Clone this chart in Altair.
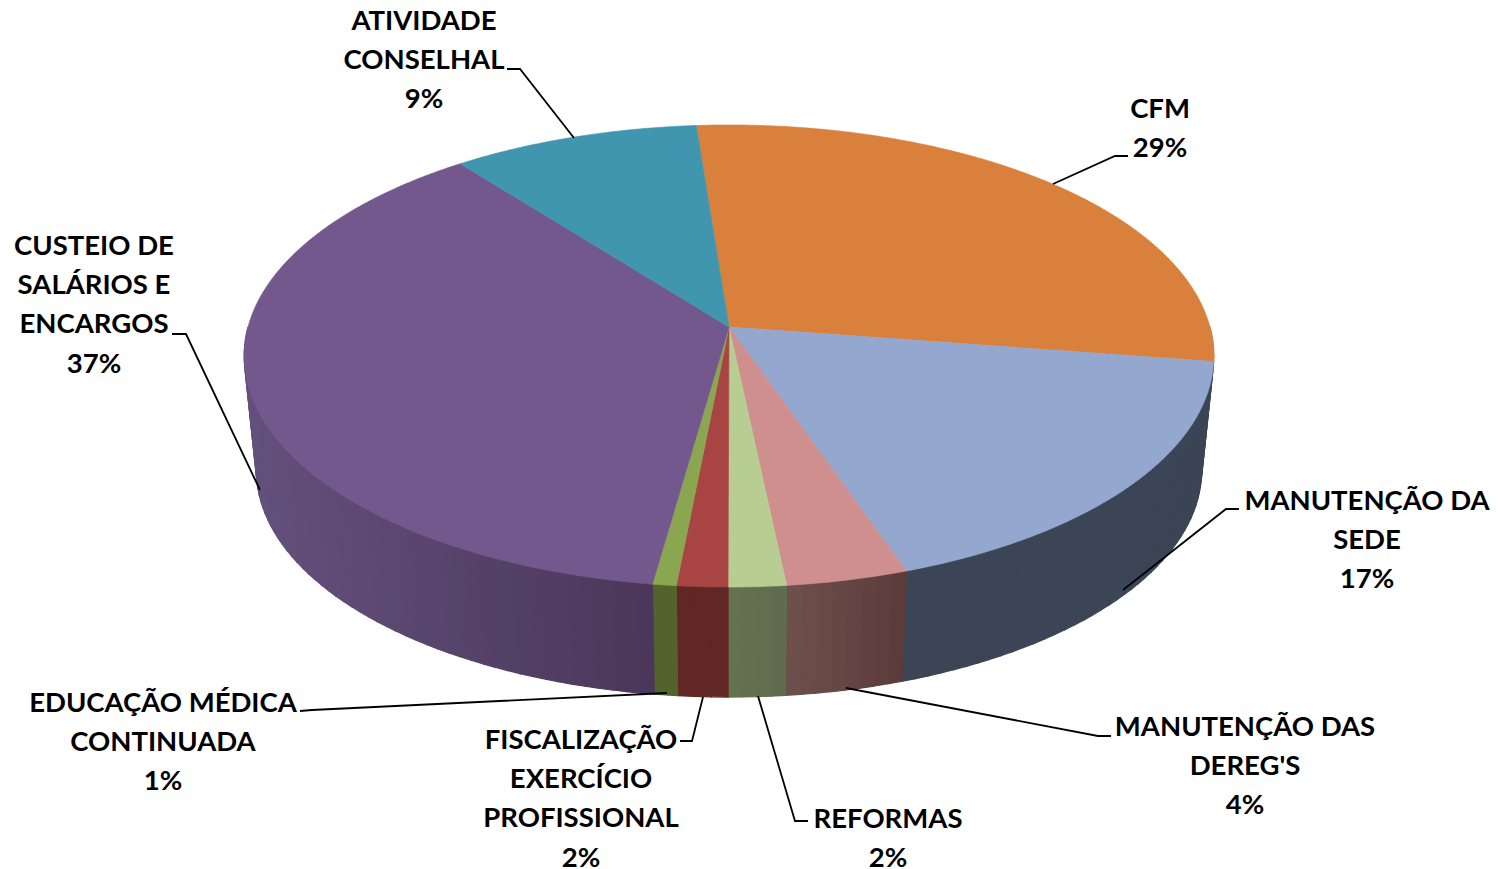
import math
import altair as alt
import pandas as pd

# Slice values, clockwise from the top
CATEGORIES = ["CFM", "MANUTENÇÃO DA\nSEDE", "MANUTENÇÃO DAS\nDEREG'S", "REFORMAS",
              "FISCALIZAÇÃO\nEXERCÍCIO\nPROFISSIONAL", "EDUCAÇÃO MÉDICA\nCONTINUADA",
              "CUSTEIO DE\nSALÁRIOS E\nENCARGOS", "ATIVIDADE\nCONSELHAL"]
SHARES = [28.6, 17.35, 3.6, 1.7, 1.5, 0.7, 37.25, 9.3]
PERCENT_LABELS = ["29%", "17%", "4%", "2%", "2%", "1%", "37%", "9%"]

TOP_COLORS = ["#d9813c", "#93a7cf", "#cf8f8e", "#b8cd92", "#a84543", "#8aa650", "#72588d", "#3f96ae"]
WALL_LEFT = ["#d9813c", "#3b4556", "#6e504c", "#66734f", "#612725", "#54632c", "#64507c", "#3f96ae"]
WALL_RIGHT = ["#d9813c", "#3b4556", "#5a3b3a", "#5f6b4e", "#612725", "#54632c", "#4a3759", "#3f96ae"]

# Label layout (first text line of each label)
LABEL_X = [1160, 1367, 1245, 888, 581, 163, 94, 424]
LABEL_Y = [110, 502, 728, 820, 741, 704, 247, 22]
LEADERS = [
    [(1053, 184), (1115, 156), (1128, 156)],
    [(1123, 590), (1226, 509), (1239, 509)],
    [(846, 688), (1098, 736), (1111, 736)],
    [(758, 696), (795, 821), (808, 821)],
    [(703, 697), (692, 741), (680, 741)],
    [(667, 693), (312, 710), (300, 711)],
    [(260, 490), (186, 334), (172, 334)],
    [(574, 138), (520, 69), (507, 69)],
]

START_ANGLE = -4.4
CX, APEX_Y, K, A, B = 729.0, 327.0, 0.1255, 227.4, 481.0
ELL_CY, BOT_CY, BOT_RX, BOT_RY = 356.0, 470.0, 0.975, 227 / 231


def top_point(deg):
    t = math.radians(deg)
    u, v = math.sin(t), math.cos(t)
    w = 1 + K * v
    return CX + B * u / w, APEX_Y - A * v / w


def bottom_point(deg):
    x, y = top_point(deg)
    return CX + (x - CX) * BOT_RX, BOT_CY + (y - ELL_CY) * BOT_RY


def mix(c1, c2, f):
    a = [int(c1[i:i + 2], 16) for i in (1, 3, 5)]
    b = [int(c2[i:i + 2], 16) for i in (1, 3, 5)]
    return "#%02x%02x%02x" % tuple(round(p + (q - p) * f) for p, q in zip(a, b))


edges = [START_ANGLE]
for s in SHARES:
    edges.append(edges[-1] + s * 3.6)

tops, walls = [], []
for i, cat in enumerate(CATEGORIES):
    a0, a1 = edges[i], edges[i + 1]
    n = max(4, int((a1 - a0) / 0.5))
    pts = [(CX, APEX_Y)] + [top_point(a0 + (a1 - a0) * j / n) for j in range(n + 1)] + [(CX, APEX_Y)]
    for j, (x, y) in enumerate(pts):
        tops.append({"id": i, "seq": j, "x": x, "y": y, "color": TOP_COLORS[i]})

    # Walls visible on the front half only
    w0, w1 = max(a0, 90.0), min(a1, 270.0)
    if w1 <= w0:
        continue
    m = max(1, int((w1 - w0) / 1.5))
    xs0, xs1 = top_point(w0)[0], top_point(w1)[0]
    lo, hi = min(xs0, xs1), max(xs0, xs1)
    for k in range(m):
        b0 = w0 + (w1 - w0) * k / m
        b1 = w0 + (w1 - w0) * (k + 1) / m
        xm = top_point((b0 + b1) / 2)[0]
        c = mix(WALL_LEFT[i], WALL_RIGHT[i], (xm - lo) / (hi - lo) if hi > lo else 0)
        quad = [top_point(b0), top_point(b1), bottom_point(b1), bottom_point(b0), top_point(b0)]
        for j, (x, y) in enumerate(quad):
            walls.append({"id": f"{i}-{k}", "seq": j, "x": x, "y": y, "color": c})

leader_rows = []
for i, pts in enumerate(LEADERS):
    for j, (x, y) in enumerate(pts):
        leader_rows.append({"id": i, "seq": j, "x": x, "y": y})

label_rows = [
    {"text": f"{c}\n{p}", "x": x, "y": y}
    for c, p, x, y in zip(CATEGORIES, PERCENT_LABELS, LABEL_X, LABEL_Y)
]

X = alt.X("x:Q", scale=alt.Scale(domain=[8, 1493], nice=False, zero=False), axis=None)
Y = alt.Y("y:Q", scale=alt.Scale(domain=[869, 8], nice=False, zero=False), axis=None)


def polys(rows, sw):
    return alt.Chart(pd.DataFrame(rows)).mark_line(
        filled=True, strokeWidth=sw, interpolate="linear"
    ).encode(
        x=X, y=Y, detail="id:N", order="seq:Q",
        fill=alt.Fill("color:N", scale=None),
        stroke=alt.Stroke("color:N", scale=None),
    )


wall_layer = polys(walls, 1.2)
top_layer = polys(tops, 0.6)
leader_layer = alt.Chart(pd.DataFrame(leader_rows)).mark_line(
    color="black", strokeWidth=1.8
).encode(x=X, y=Y, detail="id:N", order="seq:Q")
label_layer = alt.Chart(pd.DataFrame(label_rows)).mark_text(
    font="Lato", fontWeight="bold", fontSize=27.5, lineHeight=39.2, lineBreak="\n",
    align="center", baseline="middle", color="black",
).encode(x=X, y=Y, text="text:N")

chart = alt.layer(wall_layer, top_layer, leader_layer, label_layer).properties(
    width=1485, height=861, padding=0, background="white",
    autosize=alt.AutoSizeParams(type="none"),
).configure_view(stroke=None)

chart.save("out.html", embed_options={"renderer": "svg", "actions": False})
